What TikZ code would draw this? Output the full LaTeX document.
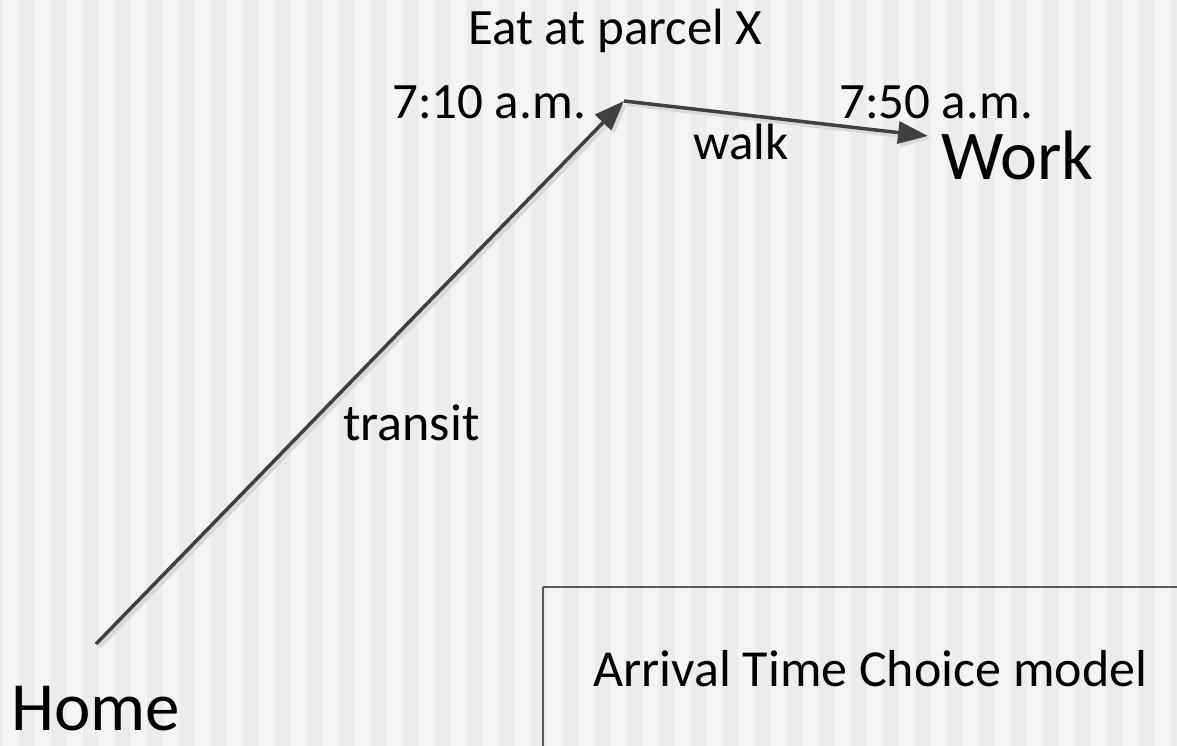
\documentclass[tikz,border=0pt]{standalone}
\usepackage{fontspec}
\setmainfont{Carlito}
\usetikzlibrary{arrows.meta}
\definecolor{bglight}{HTML}{F4F4F4}
\definecolor{bgdark}{HTML}{ECECEC}
\definecolor{arrowc}{HTML}{404040}
\definecolor{shadowc}{HTML}{D9D9D9}
\definecolor{boxc}{HTML}{595959}
\tikzset{
  lbl/.style={anchor=base west, inner sep=0pt, text=black},
  conn/.style={draw=arrowc, line width=3.5pt, -{Triangle[length=30pt,width=22pt]},
    preaction={draw=shadowc, line width=4.5pt, -{Triangle[length=30pt,width=22pt]}, transform canvas={shift={(3pt,-3pt)}}}},
  boxline/.style={draw=boxc, line width=2pt, fill=none}
}
\begin{document}
\begin{tikzpicture}[x=1pt,y=-1pt]
\useasboundingbox (0,0) rectangle (1177,746);
\clip (0,0) rectangle (1177,746);
\fill[bglight] (0,0) rectangle (1177,746);
\foreach \k in {0,...,37}{
  \fill[bgdark] ({32*\k-13},0) rectangle ({32*\k+3},746);
}
% box
\draw[boxline] (543,587) -- (1190,587);
\draw[boxline] (543,587) -- (543,760);
\node[lbl] (title) at (593,686) {\fontsize{52}{62}\selectfont Arrival Time Choice model};
% places
\coordinate (home) at (96,644);
\coordinate (eat) at (624,101);
\coordinate (work) at (928,136);
\draw[conn] (home) -- (eat);
\draw[conn] (eat) -- (work);
% labels
\node[lbl] (eatlbl) at (468,45) {\fontsize{51}{60}\selectfont Eat at parcel X};
\node[lbl] (t1) at (392,119) {\fontsize{51}{60}\selectfont 7:10 a.m.};
\node[lbl] (t2) at (839,119) {\fontsize{51}{60}\selectfont 7:50 a.m.};
\node[lbl] (walk) at (693,160) {\fontsize{51}{60}\selectfont walk};
\node[lbl] (worklbl) at (941,179) {\fontsize{70}{82}\selectfont Work};
\node[lbl] (transit) at (343,440) {\fontsize{52}{62}\selectfont transit};
\node[lbl] (homelbl) at (11,730) {\fontsize{69}{82}\selectfont Home};
\end{tikzpicture}
\end{document}
